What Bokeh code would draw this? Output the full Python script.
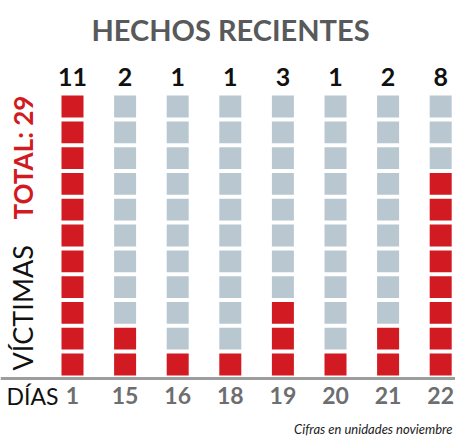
from bokeh.plotting import figure
from bokeh.models import Range1d, ColumnDataSource, Span
from bokeh.core.properties import value
from bokeh.embed import file_html
from bokeh.resources import INLINE
import math

# ---- data ----
titulo = "HECHOS RECIENTES"
dias = ["1", "15", "16", "18", "19", "20", "21", "22"]
victimas = [11, 2, 1, 1, 3, 1, 2, 8]
total_label = "TOTAL: 29"
victimas_label = "VÍCTIMAS"
dias_label = "DÍAS"
nota = "Cifras en unidades noviembre"

RED = "#d11a21"
GRAY = "#b9c8d0"
FONT = value("Lato")

W, H = 455, 437
XP, YP = 52.6, 25.8          # pixels per data unit
x0 = -72 / XP                # left edge in data units (column 0 at pixel 72)
y0 = -(H - 364) / YP         # bottom edge in data units (row 0 at pixel 364)


def px(x):
    return x0 + x / XP


def py(y):
    return (364 - y) / YP


p = figure(width=W, height=H, output_backend="svg", toolbar_location=None,
           x_range=Range1d(x0, x0 + W / XP), y_range=Range1d(y0, y0 + H / YP),
           min_border=0, background_fill_color="white", border_fill_color="white")
p.axis.visible = False
p.grid.visible = False
p.outline_line_color = None

nrows = max(victimas)
xs, ys, cs = [], [], []
for i, v in enumerate(victimas):
    for r in range(nrows):
        xs.append(i)
        ys.append(r)
        cs.append(RED if r < v else GRAY)
p.rect(x="x", y="y", width=22 / XP, height=21.8 / YP, fill_color="c", line_color=None,
       source=ColumnDataSource(dict(x=xs, y=ys, c=cs)))

# baseline
p.add_layout(Span(location=py(378), dimension="width", line_color="#9d9d9d", line_width=3))

# value labels
p.text(x=list(range(len(victimas))), y=[py(76)] * len(victimas), text=[str(v) for v in victimas],
       text_font=FONT, text_font_style="bold", text_font_size="25px", text_color="#111111",
       text_align="center", text_baseline="alphabetic")

# day labels
p.text(x=list(range(len(dias))), y=[py(395)] * len(dias), text=dias,
       text_font=FONT, text_font_style="bold", text_font_size="23px", text_color="#6d6e70",
       text_align="center", text_baseline="alphabetic")
p.text(x=[px(6)], y=[py(395)], text=[dias_label],
       text_font=FONT, text_font_size="23px", text_color="#111111",
       text_align="left", text_baseline="alphabetic")

# title
p.text(x=[px(230)], y=[py(29)], text=[titulo],
       text_font=FONT, text_font_style="bold", text_font_size="29px", text_color="#58595b",
       text_align="center", text_baseline="alphabetic")

# vertical labels
p.text(x=[px(22)], y=[py(370)], text=[victimas_label], angle=math.pi / 2,
       text_font=FONT, text_font_size="27px", text_color="#111111",
       text_align="left", text_baseline="alphabetic")
p.text(x=[px(22)], y=[py(219)], text=[total_label], angle=math.pi / 2,
       text_font=FONT, text_font_style="bold", text_font_size="26px", text_color=RED,
       text_align="left", text_baseline="alphabetic")

# footnote
p.text(x=[px(452)], y=[py(428)], text=[nota],
       text_font=FONT, text_font_style="italic", text_font_size="13px", text_color="#222222",
       text_align="right", text_baseline="alphabetic")

open("out.html", "w").write(file_html(p, INLINE))
